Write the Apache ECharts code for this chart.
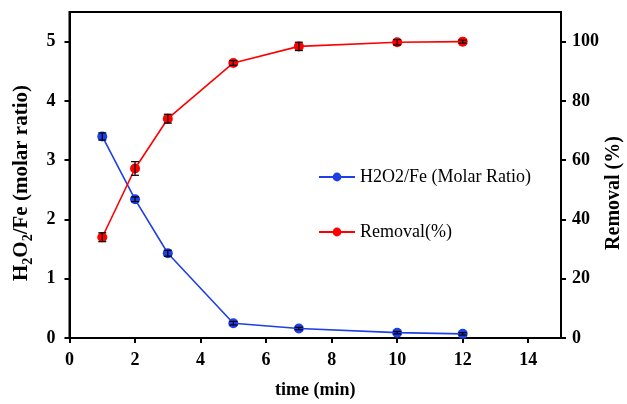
<!DOCTYPE html>
<html>
<head>
<meta charset="utf-8">
<script src="https://cdn.jsdelivr.net/npm/echarts@6/dist/echarts.min.js"></script>
<style>html,body{margin:0;padding:0;background:#fff;overflow:hidden}#c{width:627px;height:404px}</style>
</head>
<body>
<div id="c"></div>
<script>
var times = [1, 2, 3, 5, 7, 10, 12];
var ratio = [3.40, 2.34, 1.43, 0.25, 0.16, 0.09, 0.07];
var ratioErr = [0.06, 0.04, 0.05, 0.03, 0.02, 0.02, 0.02];
var removal = [34.0, 57.2, 74.0, 92.8, 98.4, 99.8, 100.0];
var removalErr = [1.5, 2.3, 1.5, 0.8, 1.4, 0.9, 0.5];
var nameRatio = 'H2O2/Fe (Molar Ratio)';
var nameRemoval = 'Removal(%)';
var titleX = 'time (min)';
var titleLeft = 'H{s|2}O{s|2}/Fe (molar ratio)';
var titleRight = 'Removal (%)';

var font = 'Liberation Serif';
function pairs(xs, ys){ return xs.map(function(x,i){return [x, ys[i]];}); }
function errData(xs, ys, es){ return xs.map(function(x,i){return [x, ys[i]-es[i], ys[i]+es[i]];}); }
function errRender(params, api){
  var x = api.value(0);
  var lo = api.coord([x, api.value(1)]);
  var hi = api.coord([x, api.value(2)]);
  var w = 4;
  var st = {stroke:'#000', lineWidth:1.2};
  return {type:'group', children:[
    {type:'line', shape:{x1:lo[0],y1:lo[1],x2:hi[0],y2:hi[1]}, style:st},
    {type:'line', shape:{x1:lo[0]-w,y1:lo[1],x2:lo[0]+w,y2:lo[1]}, style:st},
    {type:'line', shape:{x1:hi[0]-w,y1:hi[1],x2:hi[0]+w,y2:hi[1]}, style:st}
  ]};
}
function lbl(m){ return {margin:m, showMaxLabel:false, fontFamily:font, fontWeight:'bold', fontSize:18, color:'#000'}; }
var chart = echarts.init(document.getElementById('c'));
chart.setOption({
  animation:false,
  backgroundColor:'#fff',
  grid:{left:69.5, right:66, top:12, bottom:61, show:true, borderColor:'#000', borderWidth:2, backgroundColor:'transparent'},
  legend:{
    orient:'vertical', left:313, top:163, itemGap:37, itemWidth:36, itemHeight:11,
    textStyle:{fontFamily:font, fontSize:18, color:'#000'},
    data:[nameRatio, nameRemoval]
  },
  graphic:[
    {type:'text', x:22, y:183, rotation:Math.PI/2,
     style:{text:titleLeft, font:'bold 21px "Liberation Serif"', fill:'#000', align:'center', verticalAlign:'middle',
       rich:{s:{font:'bold 14px "Liberation Serif"', fill:'#000', padding:[13,0,0,0]}}}},
    {type:'text', x:614, y:193, rotation:Math.PI/2,
     style:{text:titleRight, font:'bold 20px "Liberation Serif"', fill:'#000', align:'center', verticalAlign:'middle'}}
  ],
  xAxis:{
    type:'value', min:0, max:15, interval:2,
    name:titleX, nameLocation:'middle', nameGap:43,
    nameTextStyle:{fontFamily:font, fontWeight:'bold', fontSize:18, color:'#000'},
    axisLine:{lineStyle:{color:'#000', width:2}},
    axisTick:{length:5, lineStyle:{color:'#000', width:2}},
    axisLabel:lbl(13),
    splitLine:{show:false}
  },
  yAxis:[{
    type:'value', min:0, max:5.5, interval:1,
    axisLine:{show:true, lineStyle:{color:'#000', width:2}},
    axisTick:{show:true, length:5, lineStyle:{color:'#000', width:2}},
    axisLabel:lbl(14),
    splitLine:{show:false}
  },{
    type:'value', min:0, max:110, interval:20, position:'right',
    axisLine:{show:true, lineStyle:{color:'#000', width:2}},
    axisTick:{show:true, length:5, lineStyle:{color:'#000', width:2}},
    axisLabel:lbl(11),
    splitLine:{show:false}
  }],
  series:[
    {name:nameRatio, type:'line', yAxisIndex:0, data:pairs(times, ratio),
     symbol:'circle', symbolSize:10, color:'#1f3fe6', lineStyle:{width:1.6, color:'#1f3fe6'}, itemStyle:{color:'#1f3fe6'}, z:3},
    {name:nameRemoval, type:'line', yAxisIndex:1, data:pairs(times, removal),
     symbol:'circle', symbolSize:10, color:'#ff0000', lineStyle:{width:1.6, color:'#ff0000'}, itemStyle:{color:'#ff0000'}, z:3},
    {type:'custom', yAxisIndex:0, renderItem:errRender, data:errData(times, ratio, ratioErr), z:4, silent:true},
    {type:'custom', yAxisIndex:1, renderItem:errRender, data:errData(times, removal, removalErr), z:4, silent:true}
  ]
});
</script>
</body>
</html>
